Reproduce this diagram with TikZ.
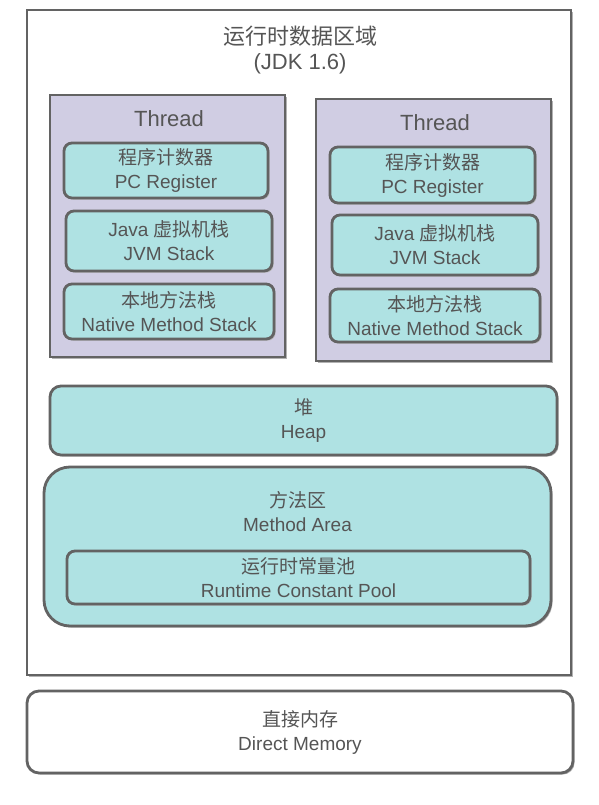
\documentclass[tikz,border=0pt]{standalone}
\usepackage{fontspec}
\setmainfont{Liberation Sans}
\newfontfamily\cjk{Noto Sans CJK SC}
\usepackage{xcolor}
\definecolor{jvmTeal}{HTML}{AFE2E3}
\definecolor{jvmLilac}{HTML}{D0CDE3}
\definecolor{jvmLine}{HTML}{636363}
\definecolor{jvmText}{HTML}{555555}
\usepackage{tikz}
\usetikzlibrary{shadows}
\tikzset{every area/.style={draw=jvmLine, line width=2.8pt, text=jvmText, align=center, inner sep=0pt, font=\fontsize{19}{24}\selectfont, drop shadow={shadow xshift=1.6pt, shadow yshift=-1.6pt, fill=black!30, opacity=1}}}
\tikzset{memory/.style={every area, fill=white}}
\tikzset{thread/.style={every area, fill=jvmLilac}}
\tikzset{region/.style={every area, fill=jvmTeal, rounded corners=8pt}}
\newcommand{\zh}[1]{{\cjk #1}}

\begin{document}
\begin{tikzpicture}[x=1pt, y=-1pt]
\useasboundingbox (0,0) rectangle (599,805);
%--------------------
% runtime data area
%--------------------
\node[memory, minimum width=544pt, minimum height=665pt](runtime) at (299,342.5){};
\node[text=jvmText, align=center, font=\fontsize{22}{25}\selectfont](title) at (300,50){\zh{运行时数据区域}\\(JDK 1.6)};

%--------------------
% the threads
%--------------------
\node[thread, minimum width=235pt, minimum height=262pt](threadA) at (167.5,226){};
\node[text=jvmText, font=\fontsize{22}{24}\selectfont](threadAname) at (169,119){Thread};
\node[region, minimum width=204pt, minimum height=55pt](pcA) at (166,170.5){\zh{程序计数器}\\PC Register};
\node[region, minimum width=206pt, minimum height=60pt](stackA) at (169,241){Java \zh{虚拟机栈}\\JVM Stack};
\node[region, minimum width=210pt, minimum height=55pt](nativeA) at (169,311.5){\zh{本地方法栈}\\Native Method Stack};

\node[thread, minimum width=235pt, minimum height=262pt](threadB) at (433.5,230){};
\node[text=jvmText, font=\fontsize{22}{24}\selectfont](threadBname) at (435,123){Thread};
\node[region, minimum width=205pt, minimum height=56pt](pcB) at (432.5,175){\zh{程序计数器}\\PC Register};
\node[region, minimum width=206pt, minimum height=60pt](stackB) at (435,245){Java \zh{虚拟机栈}\\JVM Stack};
\node[region, minimum width=210pt, minimum height=53pt](nativeB) at (435,315.5){\zh{本地方法栈}\\Native Method Stack};

%--------------------
% heap and method area
%--------------------
\node[region, rounded corners=11pt, minimum width=507pt, minimum height=69pt](heap) at (303.5,420.5){\zh{堆}\\Heap};
\node[region, rounded corners=26pt, minimum width=507pt, minimum height=159pt](method) at (297.5,546.5){};
\node[text=jvmText, align=center, font=\fontsize{19}{24}\selectfont](methodname) at (297.5,512){\zh{方法区}\\Method Area};
\node[region, minimum width=463pt, minimum height=53pt](pool) at (298.5,577.5){\zh{运行时常量池}\\Runtime Constant Pool};

%--------------------
% direct memory
%--------------------
\node[memory, rounded corners=12pt, minimum width=546pt, minimum height=82pt](direct) at (300,732){\zh{直接内存}\\Direct Memory};
\end{tikzpicture}
\end{document}
